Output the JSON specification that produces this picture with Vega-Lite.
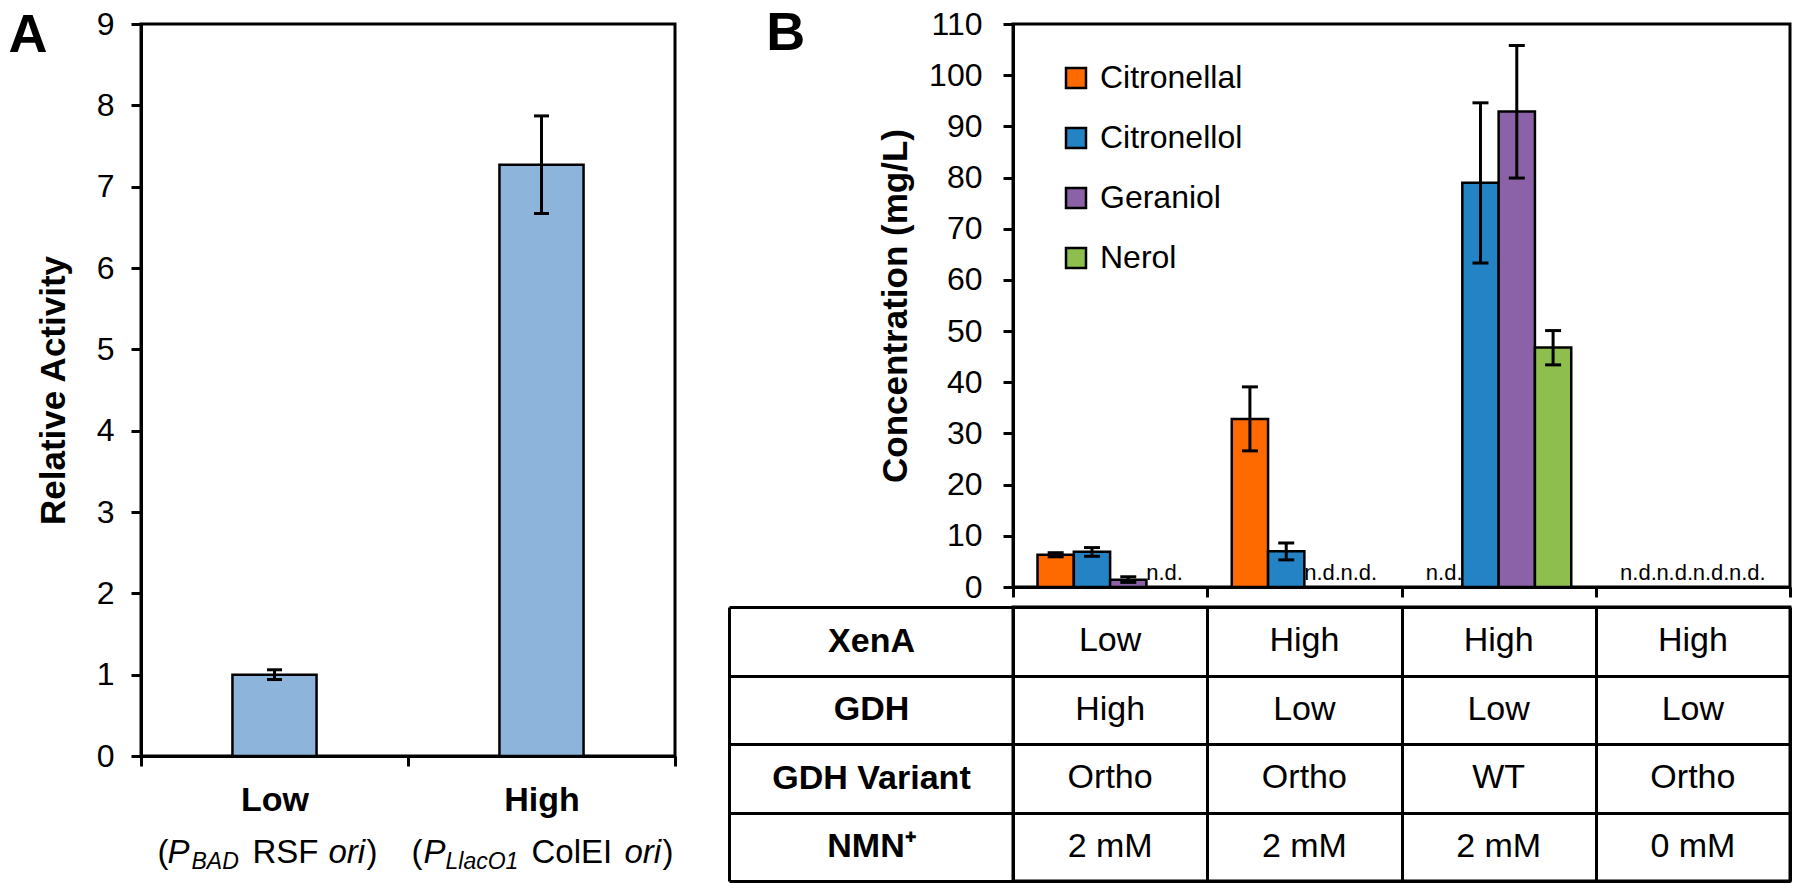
{
  "$schema": "https://vega.github.io/schema/vega-lite/v6.json",
  "padding": {"left": 7, "top": 5, "right": 2, "bottom": 2},
  "background": "white",
  "config": {
    "font": "Liberation Sans",
    "view": {"stroke": "black", "strokeWidth": 3},
    "axis": {"domainColor": "black", "domainWidth": 3, "tickColor": "black", "tickWidth": 3, "tickSize": 10, "labelColor": "black", "titleColor": "black", "labelFont": "Liberation Sans", "titleFont": "Liberation Sans", "labelFontSize": 32, "titleFontSize": 35, "titleFontWeight": "bold", "grid": false, "labelFlush": false, "labelOverlap": false},
    "legend": {"labelFont": "Liberation Sans"},
    "text": {"font": "Liberation Sans", "color": "black"}
  },
  "resolve": {"scale": {"x": "independent", "y": "independent", "color": "independent"}},
  "bounds": "flush",
  "spacing": 338,
  "hconcat": [
    {
      "width": 534,
      "height": 732,
      "data": {"values": [
        {"level": "Low", "v": 1.0, "lo": 0.94, "hi": 1.06},
        {"level": "High", "v": 7.27, "lo": 6.67, "hi": 7.87}
      ]},
      "encoding": {
        "x": {"field": "level", "type": "nominal", "sort": ["Low", "High"], "scale": {"type": "band", "domain": ["Low", "High"], "padding": 0},
              "axis": {"title": null, "labelAngle": 0, "labelFontWeight": "bold", "labelFontSize": 34, "labelPadding": 17, "tickBand": "extent"}}
      },
      "layer": [
        {"mark": {"type": "bar", "width": {"band": 0.315}, "fill": "#8DB4DB", "stroke": "black", "strokeWidth": 2.5},
         "encoding": {"y": {"field": "v", "type": "quantitative", "title": "Relative Activity", "scale": {"domain": [0, 9], "nice": false},
                            "axis": {"values": [0, 1, 2, 3, 4, 5, 6, 7, 8, 9], "format": "d", "labelPadding": 17, "titlePadding": 25}}}},
        {"mark": {"type": "rule", "strokeWidth": 3, "color": "black"},
         "encoding": {"y": {"field": "lo", "type": "quantitative", "title": "Relative Activity"}, "y2": {"field": "hi"}}},
        {"mark": {"type": "tick", "orient": "horizontal", "size": 15, "thickness": 3, "color": "black", "opacity": 1},
         "encoding": {"y": {"field": "lo", "type": "quantitative", "title": "Relative Activity"}}},
        {"mark": {"type": "tick", "orient": "horizontal", "size": 15, "thickness": 3, "color": "black", "opacity": 1},
         "encoding": {"y": {"field": "hi", "type": "quantitative", "title": "Relative Activity"}}},
        {"data": {"values": [{"panel": "A"}]},
         "mark": {"type": "text", "fontSize": 54, "fontWeight": "bold", "align": "left", "baseline": "alphabetic", "dx": -266, "dy": 28},
         "encoding": {"x": {"datum": "Low"}, "y": {"datum": 9, "type": "quantitative"}, "text": {"field": "panel"}}},
        {
          "data": {"values": [
            {"level": "Low", "id": "L1", "t": "("},
            {"level": "Low", "id": "L2", "t": "P"},
            {"level": "Low", "id": "L3", "t": "BAD"},
            {"level": "Low", "id": "L4", "t": "RSF"},
            {"level": "Low", "id": "L5", "t": "ori"},
            {"level": "Low", "id": "L6", "t": ")"},
            {"level": "High", "id": "H1", "t": "("},
            {"level": "High", "id": "H2", "t": "P"},
            {"level": "High", "id": "H3", "t": "LlacO1"},
            {"level": "High", "id": "H4", "t": "ColEI"},
            {"level": "High", "id": "H5", "t": "ori"},
            {"level": "High", "id": "H6", "t": ")"}
          ]},
          "encoding": {"y": {"datum": 0, "type": "quantitative"}, "text": {"field": "t"}},
          "layer": [
            {"transform": [{"filter": "datum.id == 'L1'"}], "mark": {"type": "text", "align": "left", "baseline": "alphabetic", "fontSize": 33, "dx": -117, "dy": 107}},
            {"transform": [{"filter": "datum.id == 'L2'"}], "mark": {"type": "text", "align": "left", "baseline": "alphabetic", "fontSize": 33, "fontStyle": "italic", "dx": -107, "dy": 107}},
            {"transform": [{"filter": "datum.id == 'L3'"}], "mark": {"type": "text", "align": "left", "baseline": "alphabetic", "fontSize": 23, "fontStyle": "italic", "dx": -83, "dy": 113}},
            {"transform": [{"filter": "datum.id == 'L4'"}], "mark": {"type": "text", "align": "left", "baseline": "alphabetic", "fontSize": 33, "dx": -22, "dy": 107}},
            {"transform": [{"filter": "datum.id == 'L5'"}], "mark": {"type": "text", "align": "left", "baseline": "alphabetic", "fontSize": 33, "fontStyle": "italic", "dx": 54, "dy": 107}},
            {"transform": [{"filter": "datum.id == 'L6'"}], "mark": {"type": "text", "align": "left", "baseline": "alphabetic", "fontSize": 33, "dx": 92, "dy": 107}},
            {"transform": [{"filter": "datum.id == 'H1'"}], "mark": {"type": "text", "align": "left", "baseline": "alphabetic", "fontSize": 33, "dx": -130, "dy": 107}},
            {"transform": [{"filter": "datum.id == 'H2'"}], "mark": {"type": "text", "align": "left", "baseline": "alphabetic", "fontSize": 33, "fontStyle": "italic", "dx": -118, "dy": 107}},
            {"transform": [{"filter": "datum.id == 'H3'"}], "mark": {"type": "text", "align": "left", "baseline": "alphabetic", "fontSize": 23, "fontStyle": "italic", "dx": -96, "dy": 113}},
            {"transform": [{"filter": "datum.id == 'H4'"}], "mark": {"type": "text", "align": "left", "baseline": "alphabetic", "fontSize": 33, "dx": -10, "dy": 107}},
            {"transform": [{"filter": "datum.id == 'H5'"}], "mark": {"type": "text", "align": "left", "baseline": "alphabetic", "fontSize": 33, "fontStyle": "italic", "dx": 83, "dy": 107}},
            {"transform": [{"filter": "datum.id == 'H6'"}], "mark": {"type": "text", "align": "left", "baseline": "alphabetic", "fontSize": 33, "dx": 121, "dy": 107}}
          ]
        }
      ]
    },
    {
      "vconcat": [
        {
          "width": 777,
          "height": 563,
          "data": {"values": [
            {"cond": "C1", "compound": "Citronellal", "v": 6.3, "lo": 5.9, "hi": 6.7, "nd": false},
            {"cond": "C1", "compound": "Citronellol", "v": 6.9, "lo": 6.0, "hi": 7.7, "nd": false},
            {"cond": "C1", "compound": "Geraniol", "v": 1.4, "lo": 0.9, "hi": 2.0, "nd": false},
            {"cond": "C1", "compound": "Nerol", "v": null, "lo": null, "hi": null, "nd": true},
            {"cond": "C2", "compound": "Citronellal", "v": 32.8, "lo": 26.6, "hi": 39.1, "nd": false},
            {"cond": "C2", "compound": "Citronellol", "v": 7.0, "lo": 5.3, "hi": 8.6, "nd": false},
            {"cond": "C2", "compound": "Geraniol", "v": null, "lo": null, "hi": null, "nd": true},
            {"cond": "C2", "compound": "Nerol", "v": null, "lo": null, "hi": null, "nd": true},
            {"cond": "C3", "compound": "Citronellal", "v": null, "lo": null, "hi": null, "nd": true},
            {"cond": "C3", "compound": "Citronellol", "v": 79.0, "lo": 63.3, "hi": 94.6, "nd": false},
            {"cond": "C3", "compound": "Geraniol", "v": 92.9, "lo": 79.9, "hi": 105.8, "nd": false},
            {"cond": "C3", "compound": "Nerol", "v": 46.8, "lo": 43.4, "hi": 50.1, "nd": false},
            {"cond": "C4", "compound": "Citronellal", "v": null, "lo": null, "hi": null, "nd": true},
            {"cond": "C4", "compound": "Citronellol", "v": null, "lo": null, "hi": null, "nd": true},
            {"cond": "C4", "compound": "Geraniol", "v": null, "lo": null, "hi": null, "nd": true},
            {"cond": "C4", "compound": "Nerol", "v": null, "lo": null, "hi": null, "nd": true}
          ]},
          "encoding": {
            "x": {"field": "cond", "type": "nominal", "scale": {"type": "band", "domain": ["C1", "C2", "C3", "C4"], "padding": 0},
                  "axis": {"title": null, "labels": false, "tickBand": "extent"}}
          },
          "layer": [
            {"transform": [{"filter": "!datum.nd"}],
             "mark": {"type": "bar", "stroke": "black", "strokeWidth": 2.5, "fillOpacity": 1},
             "encoding": {
               "xOffset": {"field": "compound", "type": "nominal", "scale": {"domain": ["Citronellal", "Citronellol", "Geraniol", "Nerol"], "paddingInner": 0, "paddingOuter": 0.675}},
               "y": {"field": "v", "type": "quantitative", "title": "Concentration (mg/L)", "scale": {"domain": [0, 110], "nice": false},
                     "axis": {"values": [0, 10, 20, 30, 40, 50, 60, 70, 80, 90, 100, 110], "format": "d", "labelPadding": 21, "titlePadding": 15}},
               "color": {"field": "compound", "type": "nominal",
                         "scale": {"domain": ["Citronellal", "Citronellol", "Geraniol", "Nerol"], "range": ["#FF6A00", "#2383C5", "#8B62A7", "#8EBF4E"]},
                         "legend": {"title": null, "orient": "none", "legendX": 47, "legendY": 38, "symbolType": "square", "symbolSize": 400, "symbolStrokeColor": "black", "symbolStrokeWidth": 2.5, "symbolOpacity": 1, "labelFontSize": 32, "labelColor": "black", "labelOffset": 8, "rowPadding": 28, "padding": 0}}
             }},
            {"transform": [{"filter": "!datum.nd"}],
             "mark": {"type": "rule", "strokeWidth": 3, "color": "black"},
             "encoding": {"xOffset": {"field": "compound", "type": "nominal"}, "y": {"field": "lo", "type": "quantitative", "title": "Concentration (mg/L)"}, "y2": {"field": "hi"}}},
            {"transform": [{"filter": "!datum.nd"}],
             "mark": {"type": "tick", "orient": "horizontal", "size": 16, "thickness": 3, "color": "black", "opacity": 1},
             "encoding": {"xOffset": {"field": "compound", "type": "nominal"}, "y": {"field": "lo", "type": "quantitative", "title": "Concentration (mg/L)"}}},
            {"transform": [{"filter": "!datum.nd"}],
             "mark": {"type": "tick", "orient": "horizontal", "size": 16, "thickness": 3, "color": "black", "opacity": 1},
             "encoding": {"xOffset": {"field": "compound", "type": "nominal"}, "y": {"field": "hi", "type": "quantitative", "title": "Concentration (mg/L)"}}},
            {"transform": [{"filter": "datum.nd"}],
             "mark": {"type": "text", "text": "n.d.", "fontSize": 22, "align": "center", "baseline": "alphabetic", "dy": -7},
             "encoding": {"xOffset": {"field": "compound", "type": "nominal"}, "y": {"datum": 0, "type": "quantitative"}}},
            {"data": {"values": [{"panel": "B"}]},
             "mark": {"type": "text", "fontSize": 54, "fontWeight": "bold", "align": "left", "baseline": "alphabetic", "dx": -344, "dy": 26},
             "encoding": {"x": {"datum": "C1"}, "y": {"datum": 110, "type": "quantitative"}, "text": {"field": "panel"}}}
          ]
        },
        {
          "width": 777,
          "height": 274,
          "view": {"stroke": "black", "strokeWidth": 3},
          "data": {"values": [
            {"cond": "C1", "row": "XenA", "val": "Low"},
            {"cond": "C1", "row": "GDH", "val": "High"},
            {"cond": "C1", "row": "GDH Variant", "val": "Ortho"},
            {"cond": "C1", "row": "NMN⁺", "val": "2 mM"},
            {"cond": "C2", "row": "XenA", "val": "High"},
            {"cond": "C2", "row": "GDH", "val": "Low"},
            {"cond": "C2", "row": "GDH Variant", "val": "Ortho"},
            {"cond": "C2", "row": "NMN⁺", "val": "2 mM"},
            {"cond": "C3", "row": "XenA", "val": "High"},
            {"cond": "C3", "row": "GDH", "val": "Low"},
            {"cond": "C3", "row": "GDH Variant", "val": "WT"},
            {"cond": "C3", "row": "NMN⁺", "val": "2 mM"},
            {"cond": "C4", "row": "XenA", "val": "High"},
            {"cond": "C4", "row": "GDH", "val": "Low"},
            {"cond": "C4", "row": "GDH Variant", "val": "Ortho"},
            {"cond": "C4", "row": "NMN⁺", "val": "0 mM"}
          ]},
          "mark": {"type": "text", "fontSize": 34, "align": "center", "baseline": "middle"},
          "encoding": {
            "x": {"field": "cond", "type": "nominal", "scale": {"type": "band", "domain": ["C1", "C2", "C3", "C4"], "padding": 0},
                  "axis": {"title": null, "labels": false, "ticks": false, "domain": false, "grid": true, "gridColor": "black", "gridWidth": 3, "gridOpacity": 1, "tickBand": "extent"}},
            "y": {"field": "row", "type": "nominal", "scale": {"type": "band", "domain": ["XenA", "GDH", "GDH Variant", "NMN⁺"], "padding": 0},
                  "axis": {"title": null, "offset": 284, "tickSize": -1061, "tickBand": "extent", "labelPadding": 919, "labelAlign": "center", "labelFontWeight": "bold", "labelFontSize": 34, "labelLimit": 0, "domain": true}},
            "text": {"field": "val"}
          }
        }
      ],
      "spacing": 20,
      "bounds": "flush",
      "resolve": {"scale": {"x": "independent", "y": "independent"}}
    }
  ]
}
